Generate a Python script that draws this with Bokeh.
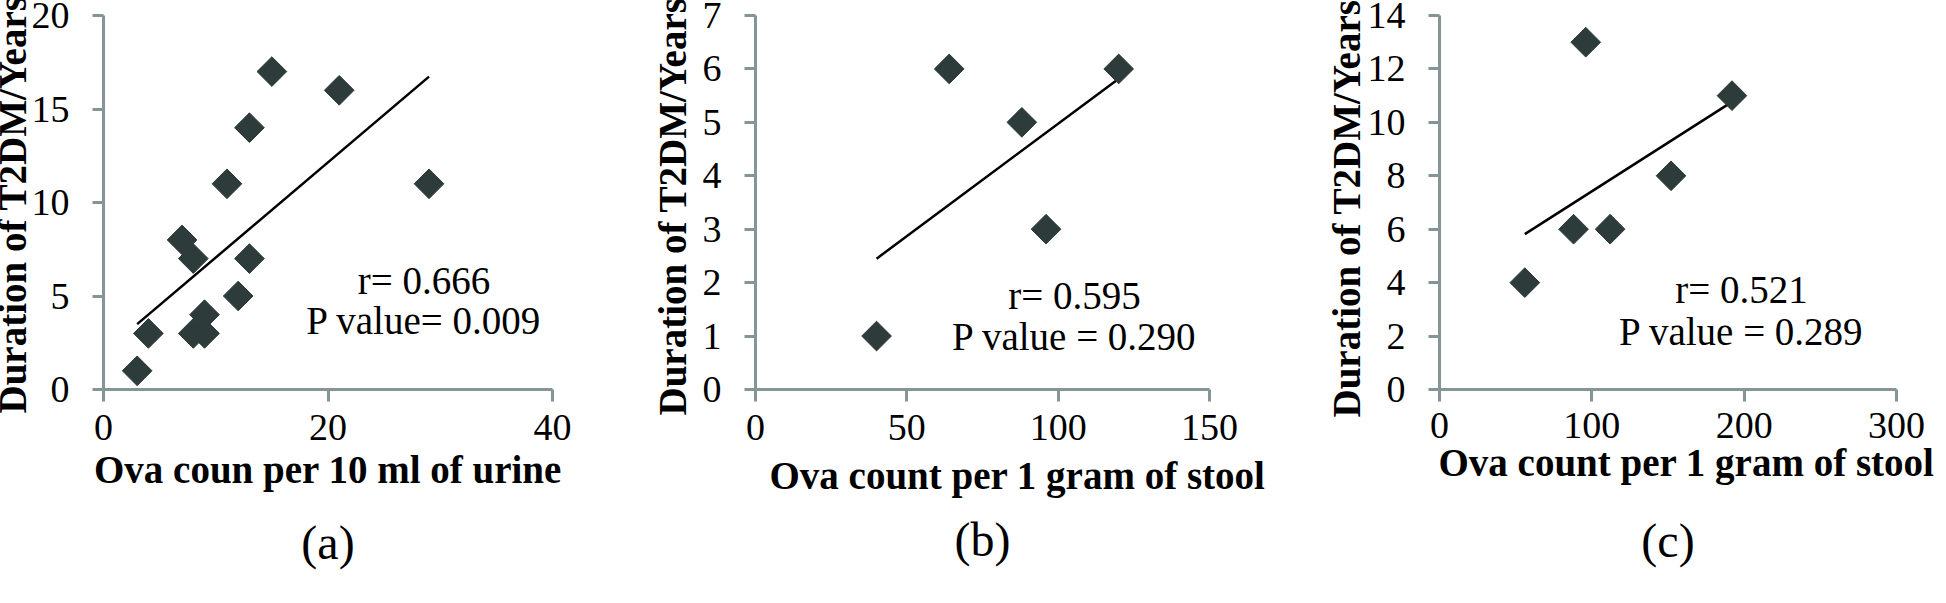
import numpy as np
from bokeh.plotting import figure
from bokeh.layouts import row
from bokeh.models import Label, FixedTicker, LinearAxis, Title
from bokeh.embed import file_html
from bokeh.resources import INLINE

# ---------------- data ----------------
y_title = "Duration of T2DM/Years"

a_x = [3, 4, 7, 8, 8, 9, 9, 11, 12, 13, 13, 15, 21, 29]
a_y = [1, 3, 8, 7, 3, 4, 3, 11, 5, 7, 14, 17, 16, 11]
a_xticks = [0, 20, 40]
a_yticks = [0, 5, 10, 15, 20]
a_xtitle = "Ova coun per 10 ml of urine"
a_stats = ["r= 0.666", "P value= 0.009"]
a_tag = "(a)"

b_x = [40, 64, 88, 96, 120]
b_y = [1, 6, 5, 3, 6]
b_xticks = [0, 50, 100, 150]
b_yticks = [0, 1, 2, 3, 4, 5, 6, 7]
b_xtitle = "Ova count per 1 gram of stool"
b_stats = ["r= 0.595", "P value = 0.290"]
b_tag = "(b)"

c_x = [56, 88, 96, 112, 152, 192]
c_y = [4, 6, 13, 6, 8, 11]
c_xticks = [0, 100, 200, 300]
c_yticks = [0, 2, 4, 6, 8, 10, 12, 14]
c_xtitle = "Ova count per 1 gram of stool"
c_stats = ["r= 0.521", "P value = 0.289"]
c_tag = "(c)"

# ---------------- style ----------------
FONT = "Liberation Serif"
AXIS_COLOR = "#859494"
MARK_COLOR = "#2d3b3b"
H = 603


def panel(xs, ys, xticks, yticks, xtitle, stats, tag, g):
    ox, W = g["ox"], g["W"]
    L, R, T, B = g["frame"]
    x0, x1 = xticks[0], xticks[-1]
    y0, y1 = yticks[0], yticks[-1]

    def dx(px):
        return x0 + (px - L) / (R - L) * (x1 - x0)

    def dy(py):
        return y0 + (B - py) / (B - T) * (y1 - y0)

    p = figure(width=W, height=H, x_range=(x0, x1), y_range=(y0, y1),
               output_backend="svg", toolbar_location=None,
               min_border_left=int(round(L - ox)),
               min_border_right=int(round(ox + W - R)),
               min_border_top=int(round(T)),
               min_border_bottom=int(round(H - B)))
    p.title.visible = False
    p.grid.visible = False
    p.outline_line_color = None
    p.background_fill_color = "white"
    p.border_fill_color = "white"

    for ax, ticks, tout, stand in ((p.xaxis, xticks, 12, g["xstand"]),
                                   (p.yaxis, yticks, 11, 23)):
        ax.ticker = FixedTicker(ticks=ticks)
        ax.axis_line_color = AXIS_COLOR
        ax.axis_line_width = 3
        ax.major_tick_line_color = AXIS_COLOR
        ax.major_tick_line_width = 3
        ax.minor_tick_line_color = None
        ax.major_tick_in = 0
        ax.major_tick_out = tout
        ax.major_label_standoff = stand
        ax.major_label_text_font = FONT
        ax.major_label_text_font_size = "38px"
        ax.major_label_text_color = "black"

    # y axis title (starts at a given height, reads upward)
    ybottom, ystd = g["ytitle"]
    p.add_layout(Title(text=y_title, align="left", offset=B - ybottom,
                       standoff=ystd, vertical_align="bottom", text_font=FONT,
                       text_font_size="39px", text_font_style="bold",
                       text_color="black"), "left")

    # x axis title
    align, off, stdf = g["xtitle"]
    p.add_layout(Title(text=xtitle, align=align, offset=off, standoff=stdf,
                       vertical_align="top", text_font=FONT,
                       text_font_size="39px", text_font_style="bold",
                       text_color="black"), "below")

    # panel tag under the x title
    tag_axis = LinearAxis(ticker=FixedTicker(ticks=[]), axis_label=tag,
                          axis_line_color=None, major_tick_line_color=None,
                          minor_tick_line_color=None, major_tick_in=0,
                          major_tick_out=0, major_label_standoff=0,
                          axis_label_standoff=g["tagstand"],
                          axis_label_text_font=FONT,
                          axis_label_text_font_size="48px",
                          axis_label_text_font_style="normal",
                          axis_label_text_color="black")
    p.add_layout(tag_axis, "below")

    # trend line (least squares fit of the data)
    k, b0 = np.polyfit(xs, ys, 1)
    xl = np.array([min(xs), max(xs)], dtype=float)
    p.line(xl, k * xl + b0, line_color="black", line_width=2.5)

    p.scatter(xs, ys, marker="square", size=21, angle=np.pi / 4,
              fill_color=MARK_COLOR, line_color=MARK_COLOR)

    sx, sy1, sy2 = g["stats"]
    for txt, yy in zip(stats, (sy1, sy2)):
        p.add_layout(Label(x=dx(sx), y=dy(yy), text=txt, text_font=FONT,
                           text_font_size="39px", text_align="center",
                           text_baseline="middle", text_color="black"))
    return p


ga = dict(ox=0, W=648, frame=(111, 560, 15, 407), stats=(431.5, 292.5, 335),
          xstand=13, ytitle=(431, -10), xtitle=("center", 0, 10), tagstand=18)
gb = dict(ox=648, W=650, frame=(763, 1217, 23, 404), stats=(1082, 308, 350),
          xstand=13, ytitle=(430, 11), xtitle=("left", 14, 22), tagstand=3)
gc = dict(ox=1298, W=646, frame=(1447, 1904, 23, 397), stats=(1749, 296.7, 339),
          xstand=11, ytitle=(425, -6), xtitle=("left", -1, 0), tagstand=28)

pa = panel(a_x, a_y, a_xticks, a_yticks, a_xtitle, a_stats, a_tag, ga)
pb = panel(b_x, b_y, b_xticks, b_yticks, b_xtitle, b_stats, b_tag, gb)
pc = panel(c_x, c_y, c_xticks, c_yticks, c_xtitle, c_stats, c_tag, gc)

layout = row(pa, pb, pc, spacing=0,
             styles={"margin-left": "-8px", "margin-top": "-8px"})
open("out.html", "w").write(file_html(layout, INLINE))
